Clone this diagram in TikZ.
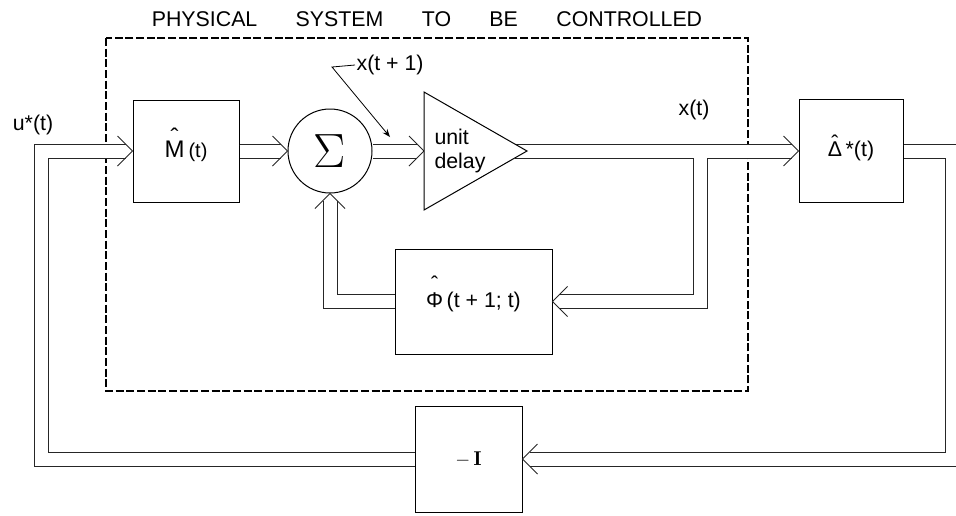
\documentclass[tikz,border=0pt]{standalone}
\usepackage{fontspec}
\setsansfont{Liberation Sans}
\usetikzlibrary{arrows.meta}

\newcommand\hatted[2][0.55em]{\ooalign{#2\cr\hidewidth\raisebox{#1}{ˆ}\hidewidth\cr}}

\tikzset{
  blk/.style={draw, line width=0.75pt, fill=white, inner sep=0pt, font=\sffamily\fontsize{16}{18}\selectfont},
  sig/.style={draw=black!85, double=white, line width=0.75pt, double distance=9.75pt, shorten >=5.25pt},
  lbl/.style={font=\sffamily\fontsize{16}{18}\selectfont, inner sep=1pt},
  chev/.pic={\draw[line width=0.75pt, draw=black!85, miter limit=10] (-15,-15) -- (0,0) -- (-15,15);},
}

\begin{document}
\begin{tikzpicture}[x=0.75pt,y=-0.75pt]
\useasboundingbox (0,0) rectangle (956,515);
\clip (0,0) rectangle (956,515);
% system boundary
\draw[dash pattern=on 6pt off 2pt, line width=1pt] (106,38) rectangle (748,391);
\node[lbl] (title) at (427,19)
  {PHYSICAL\hspace{1.8em}SYSTEM\hspace{1.8em}TO\hspace{1.8em}BE\hspace{1.8em}CONTROLLED};
% blocks
\node[blk, minimum width=79.5pt, minimum height=76.5pt] (M) at (186,151)
  {\fontsize{18}{20}\selectfont\hatted[0.5em]{M}\,\fontsize{15}{18}\selectfont(t)};
\node[draw, circle, line width=0.75pt, minimum size=63pt, inner sep=0pt] (S) at (330,151)
  {\scalebox{1.45}{\Huge$\Sigma$}};
\node[blk, minimum width=78pt, minimum height=77.25pt] (D) at (851,151)
  {\hatted[0.3em]{Δ}\,*(t)};
\node[blk, minimum width=117.75pt, minimum height=78.75pt] (P) at (473.5,301.5)
  {\hatted[0.75em]{Φ}\,(t + 1; t)};
\node[blk, minimum width=80.25pt, minimum height=79.5pt] (N) at (468.5,459)
  {\fontsize{15}{18}\selectfont$-\,\mathbf{I}$};
% labels
\node[lbl] (u) at (33,125) {u*(t)};
\node[lbl] (xt) at (694,110) {x(t)};
\node[lbl, anchor=west] (xt1) at (355,65) {x(t + 1)};
% signal lines
\coordinate (dIn) at (424,151);
\coordinate (dOut) at (515,151);
\coordinate (br) at (700,151);
\coordinate (inL) at (41,151);
\coordinate (outR) at (952,151);
\coordinate (knee) at (332,67);
\coordinate (tip) at (390,137);
\draw[sig] (N.west) -| (inL) -- (M.west);
\draw[sig] (M.east) -- (S.west);
\draw[sig] (S.east) -- (dIn);
\draw[sig] (dOut) -- (D.west);
\draw[sig] (br) |- (P.east);
\draw[white, line width=9.75pt] (692,151) -- (708,151);
\draw[sig] (P.west) -| (S.south);
\draw[sig] (D.east) -- (outR) |- (N.east);
\pic at (M.west) {chev};
\pic at (S.west) {chev};
\pic at (dIn) {chev};
\pic at (D.west) {chev};
\pic[rotate=180] at (P.east) {chev};
\pic[rotate=180] at (N.east) {chev};
\pic[rotate=90] at (S.south) {chev};
\draw[-{Stealth[length=6pt]}, line width=0.6pt] (xt1.west) -- (knee) -- (tip);
% unit delay
\draw[line width=0.75pt, fill=white] (424,92) -- (527,151) -- (424,210) -- cycle;
\node[lbl, align=left] (delay) at (460,151) {unit\\delay};
\end{tikzpicture}
\end{document}
